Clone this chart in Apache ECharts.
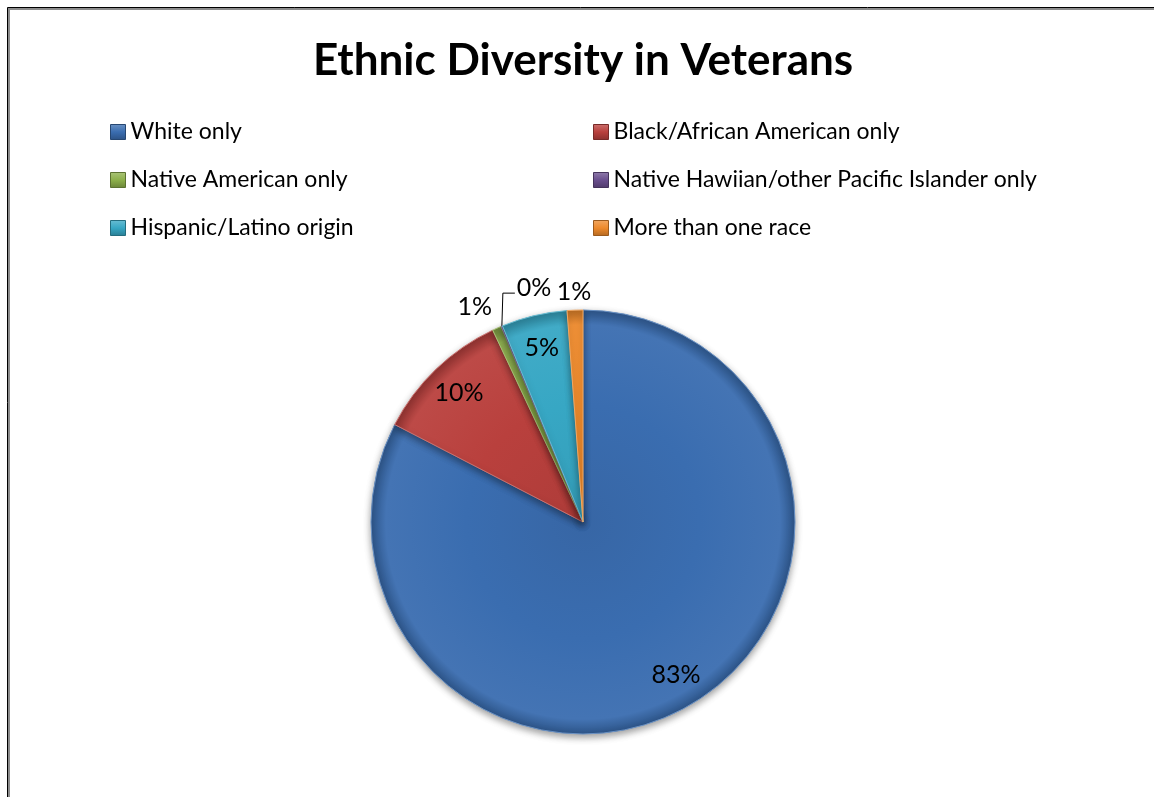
<!DOCTYPE html>
<html>
<head>
<meta charset="utf-8">
<script src="https://cdn.jsdelivr.net/npm/echarts@6/dist/echarts.min.js"></script>
<style>
  html, body { margin: 0; padding: 0; background: #ffffff; }
  #chart { width: 1154px; height: 797px; }
</style>
</head>
<body>
<div id="chart"></div>
<script>
// Chart content
const chartTitle = 'Ethnic Diversity in Veterans';
const categories = [
  'White only',
  'Black/African American only',
  'Native American only',
  'Native Hawiian/other Pacific Islander only',
  'Hispanic/Latino origin',
  'More than one race'
];
const shares = [82.6, 10.4, 0.7, 0.1, 5.0, 1.2];   // percent of veterans
const sliceColors = ['#3a6db0', '#b9403d', '#8db04b', '#6a4f8e', '#37a7c4', '#ee8a2c'];

// Layout and styling
const FONT = 'Lato, "Open Sans", "DejaVu Sans", sans-serif';
const CX = 583, CY = 522, R = 212;
const INSIDE_MIN = 5;        // slices with at least this share carry their label inside
const INSIDE_SCALE = 1.64;   // push inside labels out from r/2 toward the rim

// How the small slices place their outside labels
const outsidePlacement = {
  'Native American only': 'left',
  'Native Hawiian/other Pacific Islander only': 'leader',
  'More than one race': 'above'
};

const chart = echarts.init(document.getElementById('chart'), null, { renderer: 'canvas' });

function shade(hex, f) {
  const n = parseInt(hex.slice(1), 16);
  const ch = [(n >> 16) & 255, (n >> 8) & 255, n & 255].map(v =>
    Math.max(0, Math.min(255, Math.round(f < 0 ? v * (1 + f) : v + (255 - v) * f))));
  return 'rgb(' + ch.join(',') + ')';
}

const pieData = categories.map((name, i) => ({
  name: name,
  value: shares[i],
  label: shares[i] >= INSIDE_MIN ? { position: 'inside' } : undefined,
  itemStyle: {
    color: new echarts.graphic.RadialGradient(CX, CY, R, [
      { offset: 0, color: shade(sliceColors[i], -0.06) },
      { offset: 0.55, color: sliceColors[i] },
      { offset: 0.93, color: shade(sliceColors[i], 0.05) },
      { offset: 1, color: shade(sliceColors[i], -0.22) }
    ], true),
    borderColor: shade(sliceColors[i], 0.25),
    borderWidth: 1
  }
}));

const legendText = { fontFamily: FONT, fontSize: 23, color: '#000000', lineHeight: 24 };
const legendIcon = (i) => ({
  color: new echarts.graphic.LinearGradient(0, 0, 0, 1, [
    { offset: 0, color: shade(sliceColors[i], 0.25) },
    { offset: 0.5, color: sliceColors[i] },
    { offset: 1, color: shade(sliceColors[i], -0.25) }
  ]),
  borderColor: shade(sliceColors[i], -0.35),
  borderWidth: 1
});
const legendColumn = (idx, left) => ({
  orient: 'vertical',
  left: left,
  top: 120,
  padding: 0,
  itemWidth: 15,
  itemHeight: 15,
  itemGap: 24,
  icon: 'rect',
  selectedMode: false,
  textStyle: legendText,
  data: idx.map(i => ({ name: categories[i], itemStyle: legendIcon(i) }))
});

// Labels are placed from the library's own slice geometry
function placeLabel(params) {
  const i = params.dataIndex;
  const rc = params.labelRect;
  if (shares[i] >= INSIDE_MIN) {
    const lx = rc.x + rc.width / 2, ly = rc.y + rc.height / 2;
    return {
      x: CX + (lx - CX) * INSIDE_SCALE,
      y: CY + (ly - CY) * INSIDE_SCALE,
      align: 'center', verticalAlign: 'middle'
    };
  }
  const pts = params.labelLinePoints;
  if (!pts) return {};
  const rim = pts[0];
  const mode = outsidePlacement[categories[i]];
  if (mode === 'leader') {
    const bend = [rim[0] + 1, rim[1] - 33];
    const end = [rim[0] + 13, rim[1] - 33];
    return {
      x: end[0] + 2, y: end[1] - 5, align: 'left', verticalAlign: 'middle',
      labelLinePoints: [rim, bend, end]
    };
  }
  if (mode === 'above') {
    return {
      x: rim[0] - 1, y: rim[1] - 18, align: 'center', verticalAlign: 'middle',
      labelLinePoints: [rim, rim, rim]
    };
  }
  return {
    x: rim[0] - 5, y: rim[1] - 21, align: 'right', verticalAlign: 'middle',
    labelLinePoints: [rim, rim, rim]
  };
}

chart.setOption({
  backgroundColor: '#ffffff',
  animation: false,
  title: {
    text: chartTitle,
    left: CX - 5,
    top: 31,
    textAlign: 'center',
    textStyle: { fontFamily: FONT, fontSize: 44, fontWeight: 'bold', color: '#000000', lineHeight: 50 }
  },
  legend: [legendColumn([0, 2, 4], 110), legendColumn([1, 3, 5], 593)],
  graphic: [
    { type: 'polyline', silent: true, shape: { points: [[9, 797], [9, 9], [1154, 9]] },
      style: { stroke: '#8c8c8c', lineWidth: 2, fill: null } },
    { type: 'polyline', silent: true, shape: { points: [[7.5, 797], [7.5, 7.5], [1154, 7.5]] },
      style: { stroke: '#000000', lineWidth: 1, fill: null } }
  ],
  series: [{
    type: 'pie',
    center: [CX, CY],
    radius: [0, R],
    startAngle: 90,
    clockwise: true,
    avoidLabelOverlap: false,
    percentPrecision: 2,
    silent: true,
    itemStyle: { shadowBlur: 7, shadowOffsetY: 3, shadowColor: 'rgba(0,0,0,0.38)' },
    label: {
      show: true,
      position: 'outside',
      formatter: p => Math.round(p.percent) + '%',
      fontFamily: FONT,
      fontSize: 25,
      color: '#000000'
    },
    labelLine: { show: true, length: 20, length2: 0, lineStyle: { color: '#000000', width: 1 } },
    labelLayout: placeLabel,
    data: pieData
  }]
});
</script>
</body>
</html>
